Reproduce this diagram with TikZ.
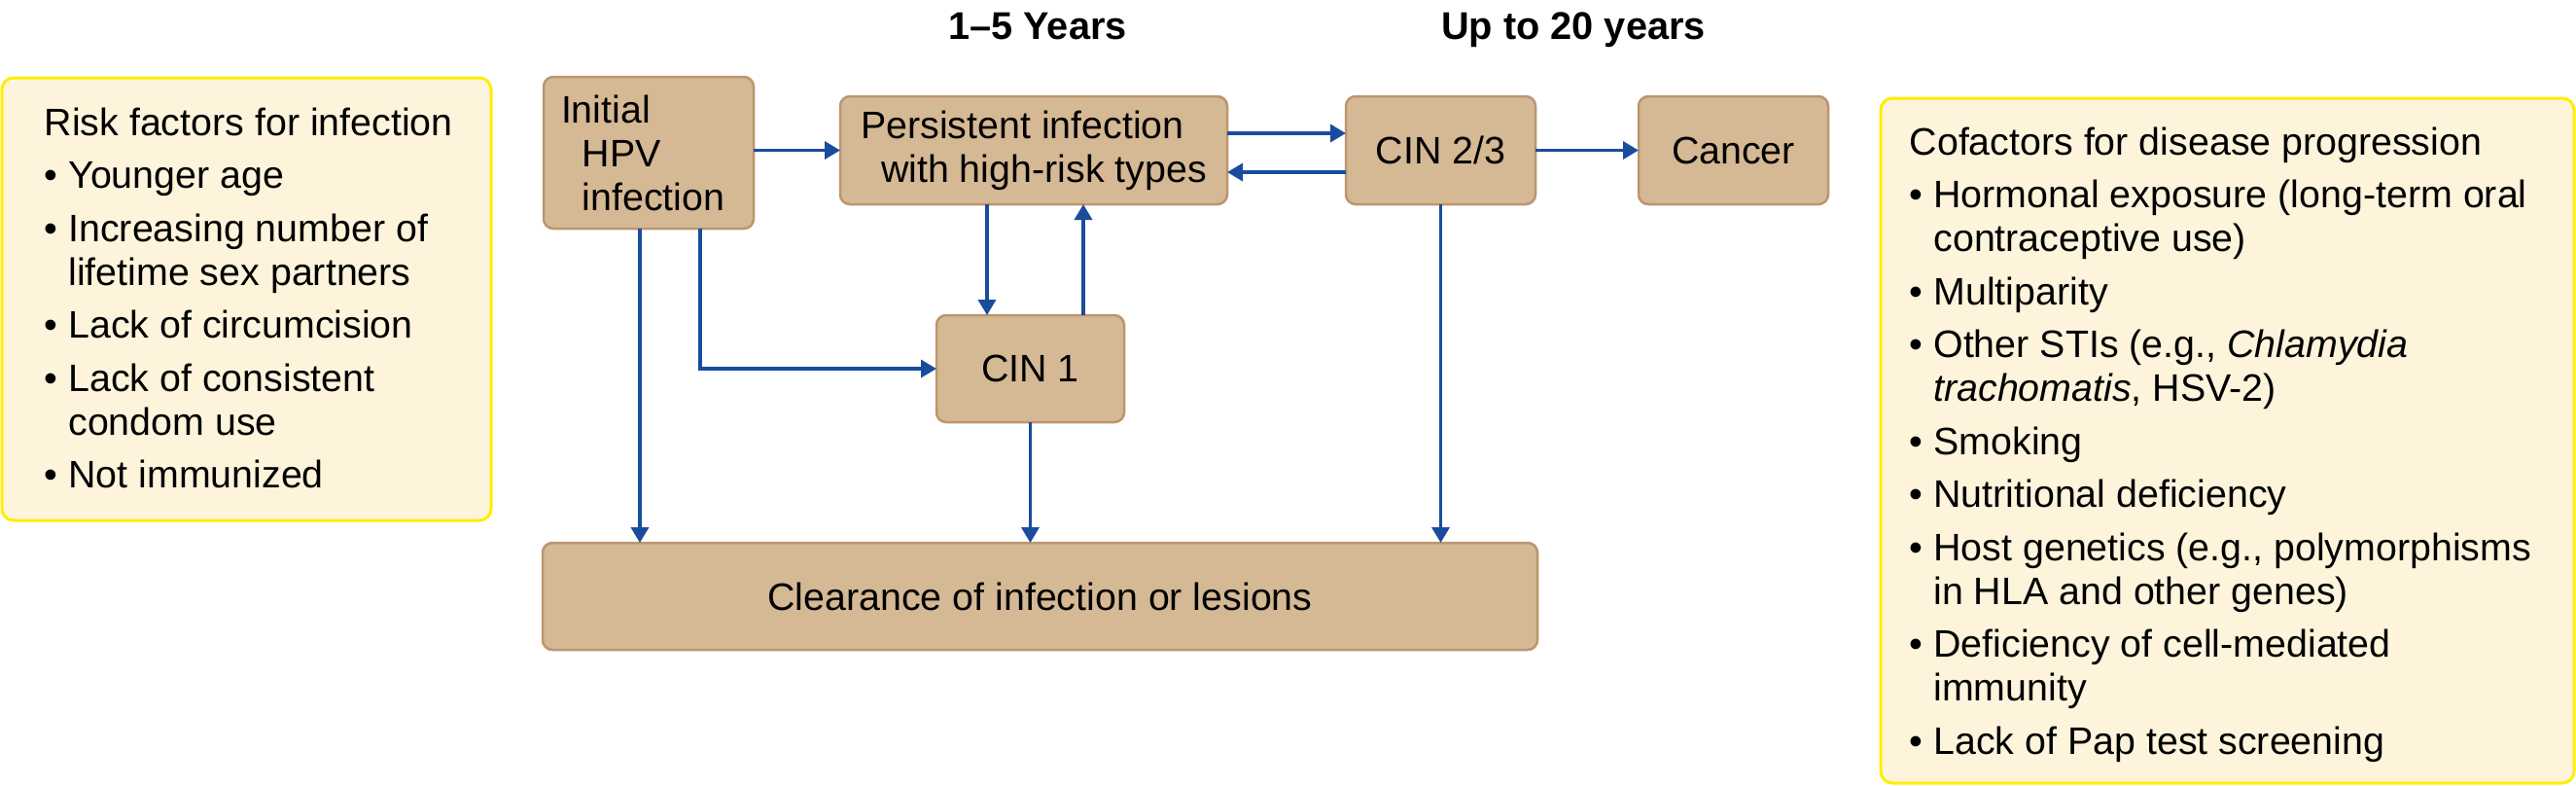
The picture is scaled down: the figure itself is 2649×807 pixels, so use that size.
\documentclass[tikz,border=0pt]{standalone}
\usepackage{fontspec}
\setmainfont{Liberation Sans}
\usetikzlibrary{arrows.meta}
\definecolor{tanfill}{HTML}{D5B894}
\definecolor{tanline}{HTML}{BC9570}
\definecolor{flowblue}{HTML}{1A4C9E}
\definecolor{notefill}{HTML}{FEF4DC}
\definecolor{noteline}{HTML}{FFEE00}
\newcommand\bulletpad{\phantom{\textbullet\ }}
\tikzset{
stage/.style={draw=tanline, line width=0.25mm, fill=tanfill, rounded corners=1mm,
  inner sep=0pt, outer sep=0pt, font=\fontsize{11.2}{12.8}\selectfont},
flow/.style={draw=flowblue, line width=0.35mm, -{Triangle[length=1.6mm,width=1.8mm]}},
panel/.style={draw=noteline, line width=0.3mm, fill=notefill, rounded corners=1.2mm},
listtext/.style={align=left, inner sep=0pt, font=\fontsize{11.2}{12.8}\selectfont},
yearlabel/.style={anchor=base, inner sep=0pt, font=\fontsize{11.3}{13}\selectfont\bfseries}
}
\begin{document}
\begin{tikzpicture}[x=0.1mm, y=-0.1mm]
\useasboundingbox (0,0) rectangle (2649,807);
% side panels
\draw[panel] (2,80) rectangle (505,535);
\draw[panel] (1934,101) rectangle (2647,805);
\node[listtext, anchor=north west] (risk) at (45,110) {Risk factors for infection\\[0.95mm]
\textbullet\ Younger age\\[0.95mm]
\textbullet\ Increasing number of\\
\bulletpad lifetime sex partners\\[0.95mm]
\textbullet\ Lack of circumcision\\[0.95mm]
\textbullet\ Lack of consistent\\
\bulletpad condom use\\[0.95mm]
\textbullet\ Not immunized};
\node[listtext, anchor=north west] (cofac) at (1963,130) {Cofactors for disease progression\\[0.95mm]
\textbullet\ Hormonal exposure (long-term oral\\
\bulletpad contraceptive use)\\[0.95mm]
\textbullet\ Multiparity\\[0.95mm]
\textbullet\ Other STIs (e.g., \textit{Chlamydia}\\
\bulletpad \textit{trachomatis}, HSV-2)\\[0.95mm]
\textbullet\ Smoking\\[0.95mm]
\textbullet\ Nutritional deficiency\\[0.95mm]
\textbullet\ Host genetics (e.g., polymorphisms\\
\bulletpad in HLA and other genes)\\[0.95mm]
\textbullet\ Deficiency of cell-mediated\\
\bulletpad immunity\\[0.95mm]
\textbullet\ Lack of Pap test screening};
% time labels
\node[yearlabel] (early) at (1067,40) {1–5 Years};
\node[yearlabel] (late) at (1618,40) {Up to 20 years};
% stages
\node[stage, minimum width=21.6mm, minimum height=15.6mm, text width=18mm, align=left]
  (initial) at (667,157) {Initial\\\hspace{0.55em}HPV\\\hspace{0.55em}infection};
\node[stage, minimum width=39.8mm, minimum height=11.1mm, align=left]
  (persist) at (1063,154.5) {Persistent infection\\\hspace{0.53em}with high-risk types};
\node[stage, minimum width=19.5mm, minimum height=11.1mm] (cinhigh) at (1481.5,154.5) {CIN 2/3};
\node[stage, minimum width=19.5mm, minimum height=11.1mm] (cancer) at (1782.5,154.5) {Cancer};
\node[stage, minimum width=19.3mm, minimum height=11mm] (cinlow) at (1059.5,379) {CIN 1};
\node[stage, minimum width=102.3mm, minimum height=11mm] (clear) at (1069.5,613) {Clearance of infection or lesions};
% connectors
\draw[flow] (initial.east |- persist) -- (persist);
\draw[flow] ([yshift=1.75mm]persist.east) -- ([yshift=1.75mm]cinhigh.west);
\draw[flow] ([yshift=-2.25mm]cinhigh.west) -- ([yshift=-2.25mm]persist.east);
\draw[flow] (cinhigh) -- (cancer);
\draw[flow] ([xshift=-4.8mm]persist.south) -- ([xshift=-4.8mm]persist.south |- cinlow.north);
\draw[flow] ([xshift=5.1mm]persist.south |- cinlow.north) -- ([xshift=5.1mm]persist.south);
\draw[flow] ([xshift=-0.9mm]initial.south) -- ([xshift=-0.9mm]initial.south |- clear.north);
\draw[flow] ([xshift=5.3mm]initial.south) |- (cinlow);
\draw[flow] (cinlow) -- (cinlow |- clear.north);
\draw[flow] (cinhigh) -- (cinhigh |- clear.north);
\end{tikzpicture}
\end{document}
